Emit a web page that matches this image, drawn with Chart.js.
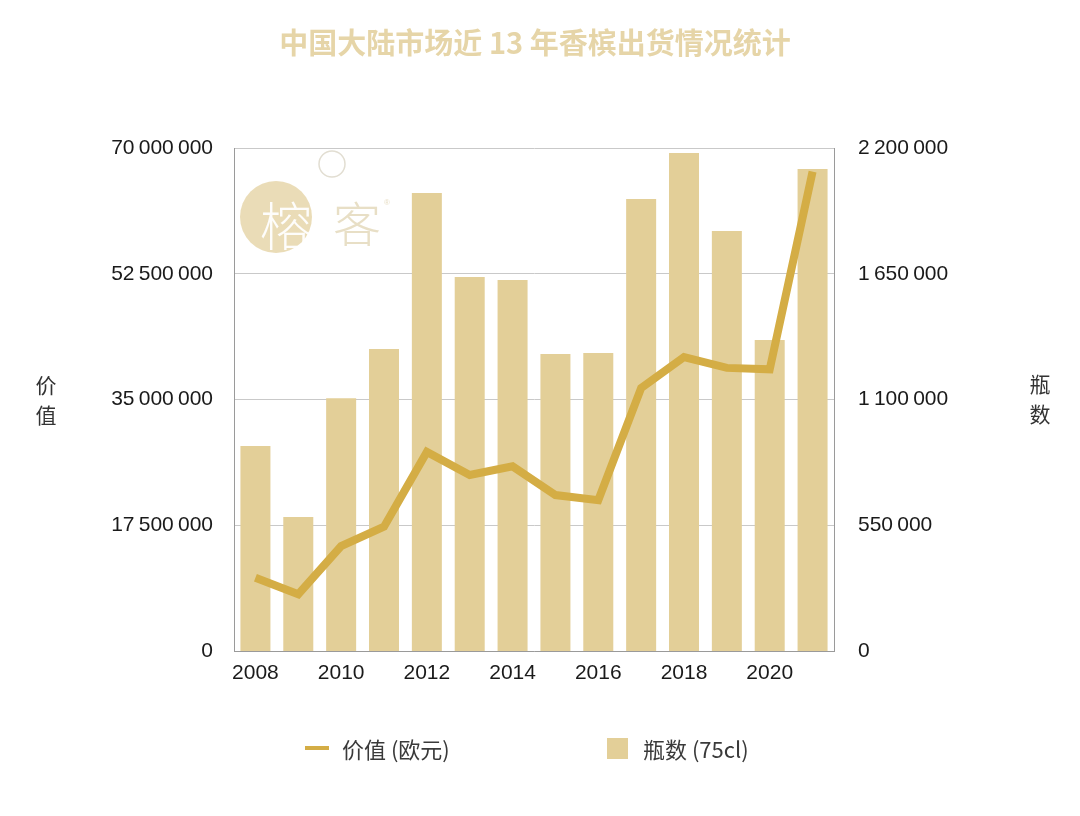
<!DOCTYPE html>
<html>
<head>
<meta charset="utf-8">
<style>
  html, body { margin: 0; padding: 0; background: #ffffff; }
  #wrap { position: relative; width: 1080px; height: 816px; }
  canvas { display: block; }
</style>
<script src="https://cdn.jsdelivr.net/npm/chart.js@4.4.1/dist/chart.umd.min.js"></script>
</head>
<body>
<div id="wrap"><canvas id="c" width="1080" height="816"></canvas></div>
<script>
const titleText = '中国大陆市场近 13 年香槟出货情况统计';
const years = ['2008','2009','2010','2011','2012','2013','2014','2015','2016','2017','2018','2019','2020','2021'];
const valueEuro = [10200000, 7900000, 14600000, 17300000, 27700000, 24500000, 25700000, 21700000, 21000000, 36600000, 40900000, 39400000, 39200000, 66700000];
const bottles = [897000, 586000, 1106000, 1321000, 2003000, 1636000, 1623000, 1299000, 1303000, 1977000, 2178000, 1837000, 1360000, 2108000];
const leftTicks = [0, 17500000, 35000000, 52500000, 70000000];
const rightTicks = [0, 550000, 1100000, 1650000, 2200000];
const leftTitle = ['价', '值'];
const rightTitle = ['瓶', '数'];
const lineLabel = '价值 (欧元)';
const barLabel = '瓶数 (75cl)';

const LINE_COLOR = '#D4AD45';
const BAR_COLOR = '#E3CF98';
const FONT = '"Liberation Sans", Arial, "Noto Sans CJK SC", sans-serif';
const CJK = '"Noto Sans CJK SC", "Liberation Sans", sans-serif';

function fmt(v) {
  return String(Math.round(v)).replace(/\B(?=(\d{3})+(?!\d))/g, '\u2009');
}

const decor = {
  id: 'decor',
  beforeDatasetsDraw(chart) {
    const ctx = chart.ctx;
    ctx.save();
    // watermark
    ctx.fillStyle = 'rgba(230, 214, 170, 0.85)';
    ctx.beginPath(); ctx.arc(276, 217, 36, 0, Math.PI * 2); ctx.fill();
    ctx.strokeStyle = '#E2DED2'; ctx.lineWidth = 1.5;
    ctx.beginPath(); ctx.arc(332, 164, 13, 0, Math.PI * 2); ctx.stroke();
    ctx.textAlign = 'center'; ctx.textBaseline = 'middle';
    ctx.font = '300 52px ' + CJK;
    ctx.fillStyle = 'rgba(255,255,255,0.95)';
    ctx.fillText('榕', 286, 226);
    ctx.font = '300 48px ' + CJK;
    ctx.fillStyle = '#E8DFC6';
    ctx.fillText('客', 357, 224);
    ctx.font = '8px ' + FONT;
    ctx.fillText('®', 387, 203);
    ctx.restore();
  },
  afterDraw(chart) {
    const ctx = chart.ctx;
    ctx.save();
    ctx.textAlign = 'center'; ctx.textBaseline = 'middle';
    ctx.font = 'bold 29px ' + CJK;
    ctx.fillStyle = '#E6D5A8';
    ctx.fillText(titleText, 535, 43);
    ctx.font = '21px ' + CJK;
    ctx.fillStyle = '#333333';
    ctx.fillText(leftTitle[0], 46, 385);
    ctx.fillText(leftTitle[1], 46, 415);
    ctx.fillText(rightTitle[0], 1040, 384);
    ctx.fillText(rightTitle[1], 1040, 414);
    // legend
    ctx.strokeStyle = LINE_COLOR; ctx.lineWidth = 4;
    ctx.beginPath(); ctx.moveTo(305, 748); ctx.lineTo(329, 748); ctx.stroke();
    ctx.fillStyle = BAR_COLOR;
    ctx.fillRect(607, 738, 21, 21);
    ctx.textAlign = 'left';
    ctx.fillStyle = '#3a3a3a';
    ctx.font = '22px ' + CJK;
    ctx.fillText(lineLabel, 342, 750);
    ctx.fillText(barLabel, 643, 750);
    ctx.restore();
  }
};

new Chart(document.getElementById('c'), {
  data: {
    labels: years,
    datasets: [
      {
        type: 'line', label: lineLabel, data: valueEuro, yAxisID: 'yL',
        borderColor: LINE_COLOR, borderWidth: 8, pointRadius: 0, tension: 0,
        borderJoinStyle: 'miter', order: 0
      },
      {
        type: 'bar', label: barLabel, data: bottles, yAxisID: 'yR',
        backgroundColor: BAR_COLOR, categoryPercentage: 0.7, barPercentage: 1.0, order: 1
      }
    ]
  },
  options: {
    responsive: false, animation: false,
    layout: { padding: { left: 0, right: 0, top: 148, bottom: 125 } },
    plugins: { legend: { display: false }, title: { display: false }, tooltip: { enabled: false } },
    scales: {
      x: {
        grid: { display: false, drawTicks: false },
        border: { display: true, color: '#9a9a9a', width: 1 },
        ticks: {
          autoSkip: false, maxRotation: 0, padding: 10, color: '#1a1a1a',
          font: { family: FONT, size: 21 },
          callback: (v, i) => (i % 2 === 0 ? years[i] : '')
        },
        afterFit: (s) => { s.height = 40; }
      },
      yL: {
        position: 'left', min: 0, max: 70000000,
        afterBuildTicks: (s) => { s.ticks = leftTicks.map(v => ({ value: v })); },
        grid: { color: '#c9c9c9', drawTicks: false, lineWidth: 1 },
        border: { display: true, color: '#9a9a9a', width: 1 },
        ticks: { padding: 21, color: '#1a1a1a', font: { family: FONT, size: 21 }, callback: (v) => fmt(v) },
        afterFit: (s) => { s.width = 234; }
      },
      yR: {
        position: 'right', min: 0, max: 2200000,
        afterBuildTicks: (s) => { s.ticks = rightTicks.map(v => ({ value: v })); },
        grid: { display: false, drawTicks: false },
        border: { display: true, color: '#9a9a9a', width: 1 },
        ticks: { padding: 24, color: '#1a1a1a', font: { family: FONT, size: 21 }, callback: (v) => fmt(v) },
        afterFit: (s) => { s.width = 246; }
      }
    }
  },
  plugins: [decor]
});
</script>
</body>
</html>
